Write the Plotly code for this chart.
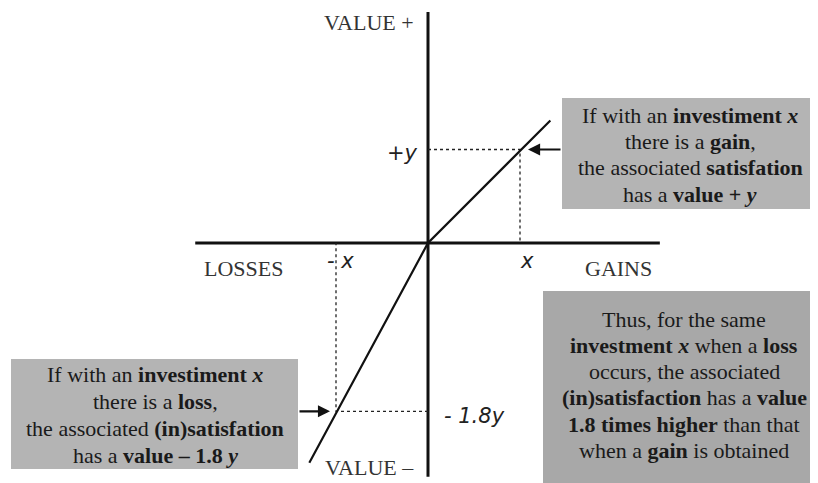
import plotly.graph_objects as go

# value function (gains slope ~1, losses slope ~1.8)
value_x = [-1.29, 0, 1.33]
value_y = [-2.35, 0, 1.31]

# reference investment and resulting values
invest = 1.0
gain_value = 1.0
loss_value = -1.8

# extent of the drawn axes
axis_x = [-2.53, 2.52]
axis_y = [-2.50, 2.47]

gain_lines = ["If with an <b>investiment <i>x</i></b>",
              "there is a <b>gain</b>,",
              "the associated <b>satisfation</b>",
              "has a <b>value + <i>y</i></b>"]
loss_lines = ["If with an <b>investiment <i>x</i></b>",
              "there is a <b>loss</b>,",
              "the associated <b>(in)satisfation</b>",
              "has a <b>value – 1.8 <i>y</i></b>"]
summary_lines = ["Thus, for the same",
                 "<b>investment <i>x</i></b> when a <b>loss</b>",
                 "occurs, the associated",
                 "<b>(in)satisfaction</b> has a <b>value</b>",
                 "<b>1.8 times higher</b> than that",
                 "when a <b>gain</b> is obtained"]

# the page body keeps its default 8px margin, so the figure is shifted by it
PAD = 8
W, H = 818 - PAD, 483 - PAD
OX, OY = 428 - PAD, 243 - PAD   # origin inside the figure
UX, UY = 92, 93.5               # pixels per unit

SERIF = "Liberation Serif"
SANS = "DejaVu Sans"


def px(x):
    return (x - PAD) / W


def py(y):
    return 1 - (y - PAD) / H


fig = go.Figure()

# axes
fig.add_trace(go.Scatter(x=axis_x, y=[0, 0], mode="lines",
                         line=dict(color="#111111", width=3), hoverinfo="skip"))
fig.add_trace(go.Scatter(x=[0, 0], y=axis_y, mode="lines",
                         line=dict(color="#111111", width=3), hoverinfo="skip"))

# dotted guides
fig.add_trace(go.Scatter(x=[0, invest, invest], y=[gain_value, gain_value, 0], mode="lines",
                         line=dict(color="#222222", width=1.3, dash="dot"), hoverinfo="skip"))
fig.add_trace(go.Scatter(x=[0, -invest, -invest], y=[loss_value, loss_value, 0], mode="lines",
                         line=dict(color="#222222", width=1.3, dash="dot"), hoverinfo="skip"))

# value function
fig.add_trace(go.Scatter(x=value_x, y=value_y, mode="lines",
                         line=dict(color="#111111", width=2.2), hoverinfo="skip"))

# grey boxes (page pixels)
boxes = [(562, 98, 818, 209, "#b4b4b4"),
         (11, 359, 298, 469, "#b4b4b4"),
         (543, 291, 818, 483, "#a8a8a8")]
for x0, y0, x1, y1, c in boxes:
    fig.add_shape(type="rect", xref="paper", yref="paper",
                  x0=px(x0), x1=px(x1), y0=py(y1), y1=py(y0),
                  fillcolor=c, line=dict(width=0), layer="below")


def text(x, y, s, size=22, family=SERIF, color="#1a1a1a"):
    fig.add_annotation(x=px(x), y=py(y), xref="paper", yref="paper", text=s,
                       showarrow=False, xanchor="center", yanchor="middle",
                       font=dict(family=family, size=size, color=color))


# box texts, one annotation per line
for i, s in enumerate(gain_lines):
    text(690, 115 + i * 26.5, s)
for i, s in enumerate(loss_lines):
    text(155, 374 + i * 27, s)
for i, s in enumerate(summary_lines):
    text(684, 319 + i * 26.3, s)

# axis labels
text(369, 22, "VALUE +", color="#333333")
text(369, 467, "VALUE –", color="#333333")
text(243, 268, "LOSSES", color="#333333")
text(618, 268, "GAINS", color="#333333")

# handwritten-like marks
text(340, 261, "<i>- x</i>", size=21, family=SANS, color="#222222")
text(527, 261, "<i>x</i>", size=21, family=SANS, color="#222222")
text(402, 153, "<i>+y</i>", size=21, family=SANS, color="#222222")
text(475, 416, "<i>- 1.8y</i>", size=21, family=SANS, color="#222222")

# arrows pointing at the line
fig.add_annotation(x=1.087, y=gain_value, ax=(562 - 428) / UX, ay=gain_value,
                   xref="x", yref="y", axref="x", ayref="y", text="",
                   showarrow=True, arrowhead=2, arrowsize=1.1, arrowwidth=2.2,
                   arrowcolor="#111111")
fig.add_annotation(x=-1.065, y=loss_value, ax=(298 - 428) / UX, ay=loss_value,
                   xref="x", yref="y", axref="x", ayref="y", text="",
                   showarrow=True, arrowhead=2, arrowsize=1.1, arrowwidth=2.2,
                   arrowcolor="#111111")

fig.update_layout(
    width=W, height=H,
    margin=dict(l=0, r=0, t=0, b=0),
    paper_bgcolor="white", plot_bgcolor="white",
    showlegend=False,
    xaxis=dict(range=[-OX / UX, (W - OX) / UX], visible=False, fixedrange=True),
    yaxis=dict(range=[(OY - H) / UY, OY / UY], visible=False, fixedrange=True),
)

fig.write_html("out.html")
